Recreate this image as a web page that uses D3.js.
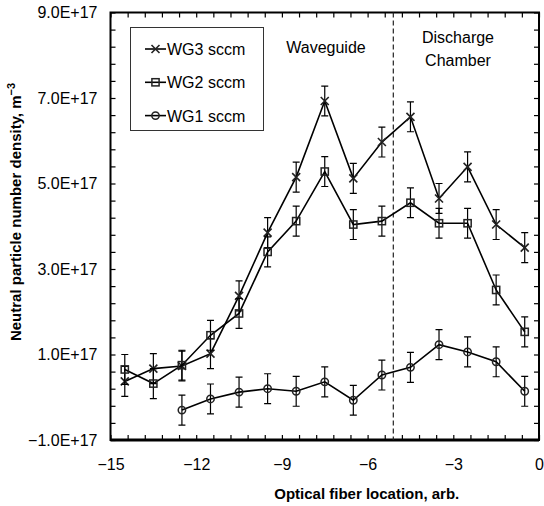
<!DOCTYPE html>
<html>
<head>
<meta charset="utf-8">
<script src="https://cdn.jsdelivr.net/npm/d3@7"></script>
<style>
  body { margin: 0; background: #fff; }
  text { font-family: "Liberation Sans", Arial, sans-serif; fill: #000; }
</style>
</head>
<body>
<script>
const w = 544;
const h = 506;

// fiber locations and densities (units of 1E+17 m^-3)
const locations = [-14.5, -13.5, -12.5, -11.5, -10.5, -9.5, -8.5, -7.5, -6.5, -5.5, -4.5, -3.5, -2.5, -1.5, -0.5];
const wg3 = [0.37, 0.67, 0.73, 1.02, 2.37, 3.85, 5.15, 6.93, 5.12, 5.97, 6.56, 4.65, 5.39, 4.04, 3.50];
const wg2 = [0.65, 0.32, 0.75, 1.45, 1.96, 3.40, 4.12, 5.28, 4.04, 4.12, 4.55, 4.07, 4.07, 2.51, 1.53];
const wg1 = [null, null, -0.30, -0.04, 0.12, 0.20, 0.14, 0.36, -0.07, 0.52, 0.70, 1.23, 1.06, 0.83, 0.14];
const errBar = 0.35;

const seriesNames = ["WG3 sccm", "WG2 sccm", "WG1 sccm"];
const seriesMarkers = ["cross", "square", "circle"];
const xTickLabels = [-15, -12, -9, -6, -3, 0];
const yTickLabels = [-1, 1, 3, 5, 7, 9];
const boundary = -5.1;

const pLeft = 110.5, pRight = 539, pTop = 12.5, pBottom = 440;

const svg = d3.select("body").append("svg")
  .attr("width", w)
  .attr("height", h);

const x = d3.scaleLinear().domain([-15, 0]).range([pLeft, pRight]);
const y = d3.scaleLinear().domain([-1, 9]).range([pBottom, pTop]);

const minorX = d3.range(0, 26).map(i => -15 + i * 0.6);
const minorY = d3.range(0, 26).map(i => -1 + i * 0.4);
const tickLen = 5;

const fmtMinus = s => s.replace("-", "\u2212");

// inward tick marks on all four sides
svg.append("g")
  .attr("transform", `translate(0,${pBottom})`)
  .call(d3.axisTop(x).tickValues(minorX).tickSize(tickLen).tickFormat(""))
  .call(g => g.select(".domain").remove());
svg.append("g")
  .attr("transform", `translate(0,${pTop})`)
  .call(d3.axisBottom(x).tickValues(minorX).tickSize(tickLen).tickFormat(""))
  .call(g => g.select(".domain").remove());
svg.append("g")
  .attr("transform", `translate(${pLeft},0)`)
  .call(d3.axisRight(y).tickValues(minorY).tickSize(tickLen).tickFormat(""))
  .call(g => g.select(".domain").remove());
svg.append("g")
  .attr("transform", `translate(${pRight},0)`)
  .call(d3.axisLeft(y).tickValues(minorY).tickSize(tickLen).tickFormat(""))
  .call(g => g.select(".domain").remove());
svg.selectAll(".tick line").attr("stroke", "#000").attr("stroke-width", 1.2);

// tick labels
const xLab = svg.append("g")
  .attr("transform", `translate(0,${pBottom})`)
  .call(d3.axisBottom(x).tickValues(xTickLabels).tickSize(0).tickPadding(19)
    .tickFormat(d => fmtMinus(String(d))));
xLab.select(".domain").remove();
xLab.selectAll("text").style("font-size", "16px").attr("font-family", null);

const yLab = svg.append("g")
  .attr("transform", `translate(${pLeft},0)`)
  .call(d3.axisLeft(y).tickValues(yTickLabels).tickSize(0).tickPadding(13)
    .tickFormat(d => fmtMinus(d.toFixed(1) + "E+17")));
yLab.select(".domain").remove();
yLab.selectAll("text").style("font-size", "16px").attr("font-family", null);

// frame
svg.append("rect")
  .attr("x", pLeft).attr("y", pTop)
  .attr("width", pRight - pLeft).attr("height", pBottom - pTop)
  .attr("fill", "none").attr("stroke", "#000").attr("stroke-width", 2);
svg.append("line")
  .attr("x1", pLeft).attr("x2", pRight)
  .attr("y1", pBottom).attr("y2", pBottom)
  .attr("stroke", "#000").attr("stroke-width", 3);

// boundary between waveguide and chamber
svg.append("line")
  .attr("x1", x(boundary)).attr("x2", x(boundary))
  .attr("y1", pTop).attr("y2", pBottom)
  .attr("stroke", "#222").attr("stroke-width", 1.2)
  .attr("stroke-dasharray", "5,3");

svg.append("text").attr("x", 326).attr("y", 53)
  .attr("text-anchor", "middle").style("font-size", "16px").text("Waveguide");
svg.append("text").attr("x", 458).attr("y", 43)
  .attr("text-anchor", "middle").style("font-size", "16px").text("Discharge");
svg.append("text").attr("x", 458).attr("y", 66)
  .attr("text-anchor", "middle").style("font-size", "16px").text("Chamber");

function drawMarker(g, type, cx, cy) {
  if (type === "cross") {
    const s = 4;
    g.append("path")
      .attr("d", `M${cx - s},${cy - s}L${cx + s},${cy + s}M${cx - s},${cy + s}L${cx + s},${cy - s}`)
      .attr("stroke", "#222").attr("stroke-width", 1.6).attr("fill", "none");
  } else if (type === "square") {
    g.append("rect")
      .attr("x", cx - 3.6).attr("y", cy - 3.6)
      .attr("width", 7.2).attr("height", 7.2)
      .attr("stroke", "#222").attr("stroke-width", 1.5).attr("fill", "none");
  } else {
    g.append("circle")
      .attr("cx", cx).attr("cy", cy).attr("r", 3.7)
      .attr("stroke", "#222").attr("stroke-width", 1.5).attr("fill", "none");
  }
}

const allSeries = [wg3, wg2, wg1];
const line = d3.line()
  .defined(d => d.v !== null)
  .x(d => x(d.loc))
  .y(d => y(d.v));

allSeries.forEach((vals, si) => {
  const pts = locations.map((loc, i) => ({ loc: loc, v: vals[i] }));
  const g = svg.append("g");
  g.append("path")
    .datum(pts)
    .attr("d", line)
    .attr("fill", "none")
    .attr("stroke", "#000")
    .attr("stroke-width", 1.6);

  pts.filter(d => d.v !== null).forEach(d => {
    const cx = x(d.loc);
    const y1 = y(d.v + errBar), y2 = y(d.v - errBar);
    g.append("path")
      .attr("d", `M${cx},${y1}V${y2}M${cx - 3.5},${y1}H${cx + 3.5}M${cx - 3.5},${y2}H${cx + 3.5}`)
      .attr("stroke", "#000").attr("stroke-width", 1.2).attr("fill", "none");
    drawMarker(g, seriesMarkers[si], cx, y(d.v));
  });
});

// legend
const legend = svg.append("g").attr("id", "legend");
legend.append("rect")
  .attr("x", 130.5).attr("y", 27.5)
  .attr("width", 133).attr("height", 103)
  .attr("fill", "#fff").attr("stroke", "#333").attr("stroke-width", 1);
seriesNames.forEach((name, i) => {
  const ly = 49 + i * 33.3;
  legend.append("line")
    .attr("x1", 145).attr("x2", 166)
    .attr("y1", ly).attr("y2", ly)
    .attr("stroke", "#000").attr("stroke-width", 1.6);
  drawMarker(legend, seriesMarkers[i], 155.5, ly);
  legend.append("text")
    .attr("x", 167).attr("y", ly + 6)
    .style("font-size", "16px")
    .text(name);
});

// axis titles
svg.append("text")
  .attr("x", (pLeft + pRight) / 2 + 42).attr("y", 499)
  .attr("text-anchor", "middle")
  .style("font-size", "15px").style("font-weight", "bold")
  .text("Optical fiber location, arb.");

const yt = svg.append("text")
  .attr("transform", `translate(21,${212}) rotate(-90)`)
  .attr("text-anchor", "middle")
  .style("font-size", "15px").style("font-weight", "bold");
yt.append("tspan").text("Neutral particle number density, m");
yt.append("tspan").attr("dy", -6).style("font-size", "11px").text("\u22123");
</script>
</body>
</html>
